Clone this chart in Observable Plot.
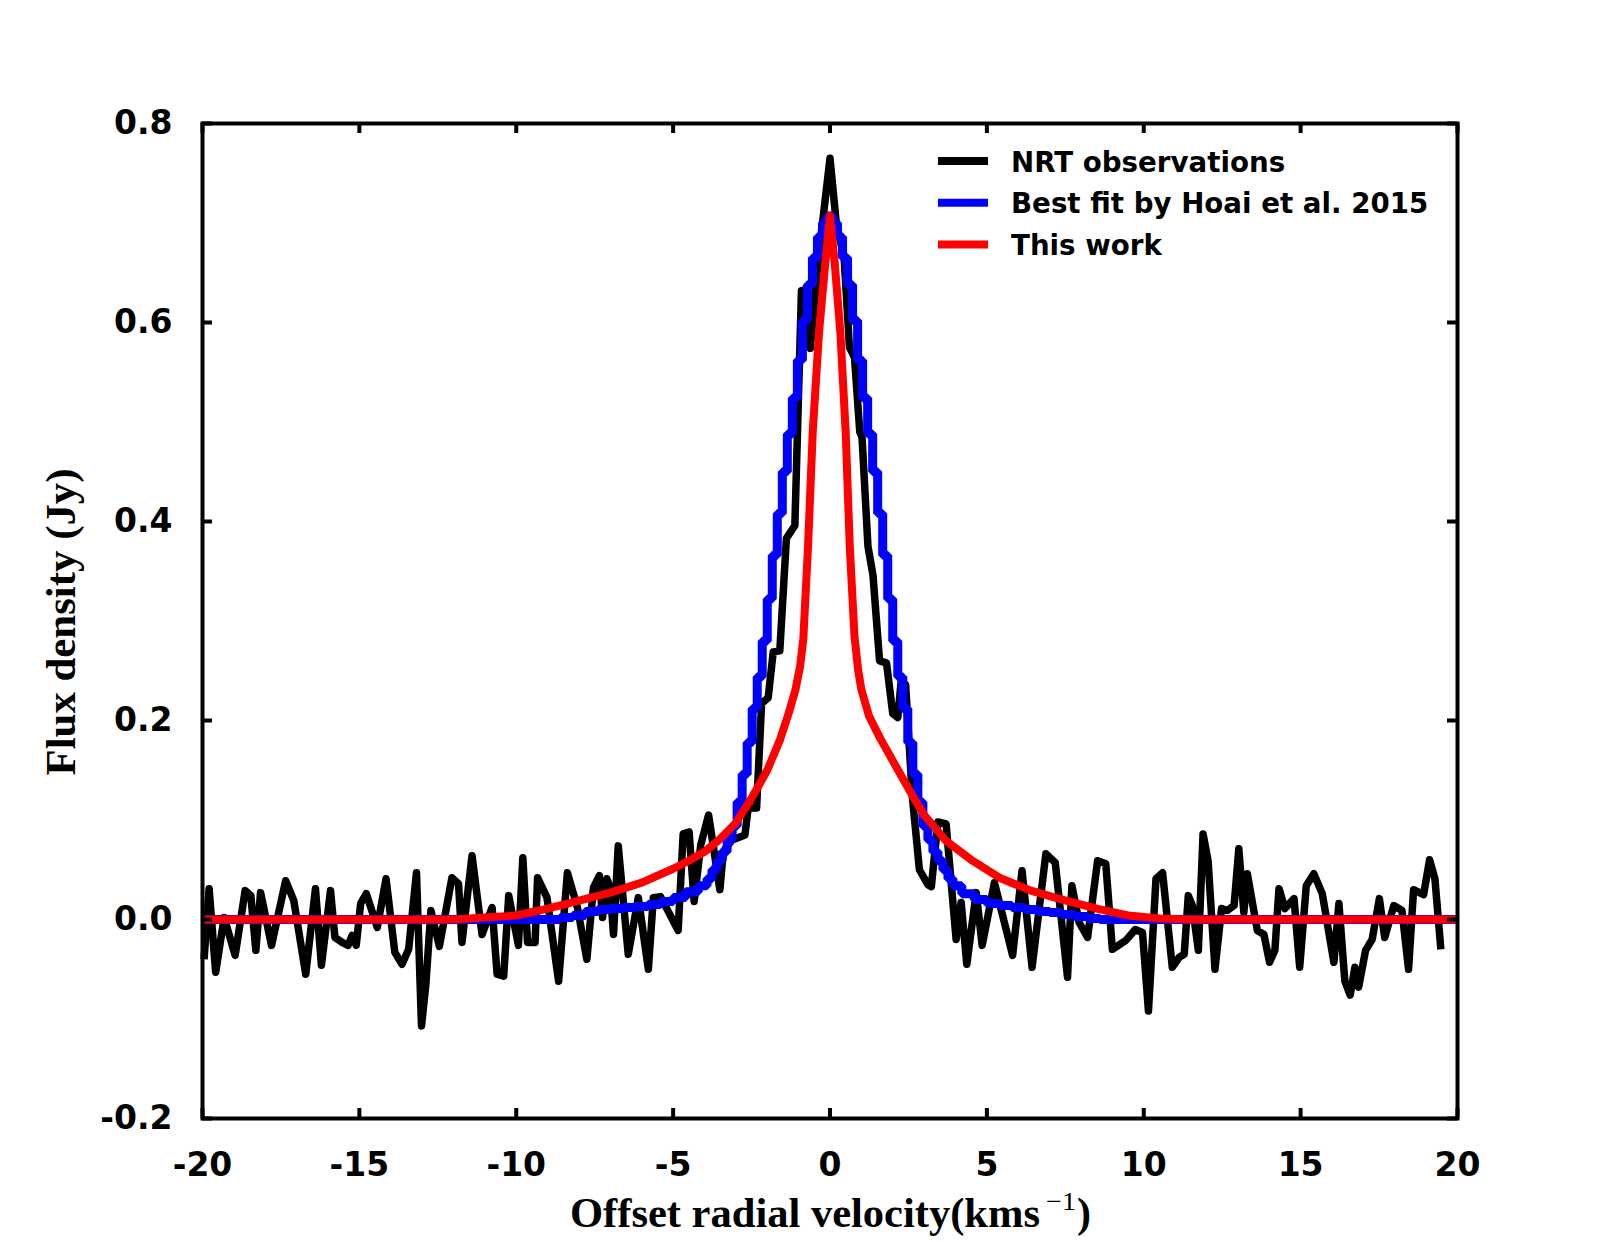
<!DOCTYPE html>
<html>
<head>
<meta charset="utf-8">
<script src="https://cdn.jsdelivr.net/npm/d3@7"></script>
<script src="https://cdn.jsdelivr.net/npm/@observablehq/plot@0.6"></script>
<style>
  html, body { margin: 0; padding: 0; background: #ffffff; }
</style>
</head>
<body>
<div id="chart"></div>
<script>
// ---- Data ----
// NRT observations (offset radial velocity km/s, flux density Jy)
const obsV = [-19.95,-19.79,-19.58,-19.31,-18.96,-18.64,-18.46,-18.30,-18.15,-17.80,-17.35,-17.09,-16.71,-16.40,-16.21,-15.92,-15.78,-15.55,-15.36,-15.23,-15.10,-14.96,-14.78,-14.43,-14.15,-13.87,-13.64,-13.43,-13.18,-13.02,-12.88,-12.72,-12.45,-12.05,-11.84,-11.73,-11.41,-11.09,-10.77,-10.61,-10.40,-10.24,-9.93,-9.79,-9.64,-9.40,-9.32,-9.02,-8.65,-8.37,-8.05,-7.75,-7.54,-7.35,-7.25,-7.11,-7.01,-6.90,-6.75,-6.43,-6.11,-5.79,-5.63,-5.40,-4.84,-4.68,-4.49,-4.33,-4.12,-3.87,-3.51,-3.40,-3.12,-2.71,-2.61,-2.34,-2.18,-1.97,-1.81,-1.60,-1.39,-1.12,-0.91,-0.77,-0.63,-0.35,0.00,0.20,0.45,0.62,0.78,0.95,1.02,1.21,1.37,1.58,1.80,2.00,2.16,2.27,2.41,2.62,2.85,3.12,3.23,3.44,3.70,4.02,4.18,4.36,4.66,4.85,5.24,5.82,6.12,6.44,6.88,7.18,7.57,7.71,7.94,8.21,8.53,8.79,9.00,9.43,9.73,9.96,10.15,10.39,10.60,10.91,11.13,11.29,11.42,11.55,11.74,11.89,12.05,12.27,12.48,12.66,12.88,13.03,13.19,13.30,13.62,13.83,14.01,14.18,14.31,14.50,14.79,14.97,15.18,15.42,15.69,16.06,16.22,16.41,16.58,16.73,16.85,17.07,17.28,17.51,17.68,17.97,18.23,18.44,18.60,18.92,19.11,19.28,19.47];
const obsF = [-0.040,0.031,-0.053,0.002,-0.036,0.029,0.024,-0.031,0.027,-0.026,0.039,0.019,-0.055,0.031,-0.046,0.029,-0.018,-0.023,-0.026,-0.016,-0.026,0.016,0.026,-0.008,0.041,-0.033,-0.045,-0.030,0.047,-0.107,-0.065,0.009,-0.027,0.042,0.036,-0.023,0.064,-0.015,0.012,-0.055,-0.057,0.024,-0.026,0.062,-0.023,-0.023,0.042,0.022,-0.062,0.047,0.012,-0.040,0.032,0.044,0.002,0.041,0.032,-0.015,0.074,-0.035,0.022,-0.050,0.022,0.023,-0.011,0.086,0.088,0.018,0.075,0.105,0.030,0.068,0.080,0.085,0.112,0.112,0.217,0.223,0.269,0.270,0.383,0.396,0.632,0.633,0.574,0.670,0.765,0.700,0.665,0.575,0.565,0.490,0.485,0.375,0.346,0.260,0.258,0.207,0.203,0.240,0.236,0.125,0.050,0.035,0.033,0.098,0.096,-0.020,0.017,-0.045,0.027,-0.026,0.037,-0.036,0.049,-0.048,0.066,0.057,-0.058,0.034,-0.003,-0.018,0.059,0.056,-0.030,-0.021,-0.010,-0.013,-0.092,0.041,0.047,-0.048,-0.038,-0.035,0.024,0.014,-0.031,0.086,0.059,-0.050,0.011,0.009,0.014,0.071,0.007,0.046,-0.011,-0.015,-0.043,-0.031,0.031,0.011,0.021,-0.048,0.034,0.046,0.026,-0.043,0.016,-0.062,-0.076,-0.048,-0.068,-0.031,-0.020,0.021,-0.018,0.014,0.009,-0.050,0.030,0.025,0.060,0.041,-0.030];

// Best fit by Hoai et al. 2015 (drawn as channel steps)
const fitV = [-19.9,-9.2,-8.8,-8.4,-8.0,-7.6,-7.2,-6.8,-6.4,-6.0,-5.6,-5.2,-4.8,-4.4,-4.00,-3.84,-3.68,-3.52,-3.36,-3.20,-3.04,-2.88,-2.72,-2.56,-2.40,-2.24,-2.08,-1.92,-1.76,-1.60,-1.44,-1.28,-1.12,-0.96,-0.80,-0.64,-0.48,-0.32,-0.16,0.00,0.16,0.32,0.48,0.64,0.80,0.96,1.12,1.28,1.44,1.60,1.76,1.92,2.08,2.24,2.40,2.56,2.72,2.88,3.04,3.20,3.36,3.52,3.68,3.84,4.00,4.4,4.8,5.2,5.6,6.0,6.4,6.8,7.2,7.6,8.0,8.4,8.8,9.2,19.9];
const fitF = [0,0,0,0.002,0.004,0.008,0.010,0.011,0.012,0.013,0.015,0.018,0.022,0.028,0.034,0.041,0.050,0.059,0.068,0.080,0.094,0.118,0.146,0.178,0.212,0.244,0.280,0.322,0.366,0.408,0.450,0.488,0.524,0.562,0.602,0.638,0.665,0.686,0.700,0.707,0.700,0.686,0.665,0.638,0.602,0.562,0.524,0.488,0.450,0.408,0.366,0.322,0.280,0.244,0.212,0.178,0.146,0.118,0.094,0.080,0.068,0.059,0.050,0.041,0.034,0.026,0.020,0.016,0.014,0.012,0.010,0.008,0.007,0.005,0.003,0.001,0,0,0];

// This work
const modelV = [-19.9,-12,-11,-10,-9,-8,-7,-6,-5,-4.5,-4,-3.5,-3,-2.5,-2,-1.6,-1.3,-1.1,-0.95,-0.85,-0.7,-0.55,-0.35,-0.15,0,0.15,0.33,0.5,0.63,0.78,0.9,1.0,1.25,1.6,2.1,2.6,3.0,3.7,4.5,5.4,6.4,7.4,8.5,9.5,10.5,11.5,19.9];
const modelF = [0,0,0.002,0.004,0.011,0.019,0.027,0.037,0.051,0.059,0.068,0.081,0.097,0.122,0.150,0.180,0.209,0.231,0.255,0.282,0.375,0.490,0.590,0.660,0.707,0.660,0.590,0.490,0.375,0.285,0.250,0.231,0.204,0.182,0.154,0.126,0.105,0.079,0.060,0.042,0.029,0.020,0.011,0.004,0.001,0,0];

const xTicks = [-20,-15,-10,-5,0,5,10,15,20];
const yTicks = [-0.2,0.0,0.2,0.4,0.6,0.8];
const seriesNames = ["NRT observations","Best fit by Hoai et al. 2015","This work"];
const seriesColors = ["#000000","#0000ff","#ff0000"];

// ---- Layout ----
const W = 1618, H = 1242;
const mL = 202, mR = 161, mT = 123, mB = 124;
const xDomain = [-20, 20], yDomain = [-0.2, 0.8];
const tickPx = 10;
const tickDy = tickPx * (yDomain[1] - yDomain[0]) / (H - mT - mB);
const tickDx = tickPx * (xDomain[1] - xDomain[0]) / (W - mL - mR);

const obs = obsV.map((v, i) => ({v, f: obsF[i]}));
const fit = fitV.map((v, i) => ({v, f: fitF[i]}));
const model = modelV.map((v, i) => ({v, f: modelF[i]}));

const svg = Plot.plot({
  width: W, height: H,
  marginLeft: mL, marginRight: mR, marginTop: mT, marginBottom: mB,
  x: {domain: xDomain},
  y: {domain: yDomain},
  style: {fontFamily: "DejaVu Sans", background: "#ffffff", color: "#000"},
  marks: [
    Plot.line(obs, {x: "v", y: "f", stroke: seriesColors[0], strokeWidth: 7.5, strokeLinejoin: "round", strokeLinecap: "butt"}),
    Plot.line(fit, {x: "v", y: "f", stroke: seriesColors[1], strokeWidth: 9, curve: "step", strokeLinejoin: "miter"}),
    Plot.line(model, {x: "v", y: "f", stroke: seriesColors[2], strokeWidth: 8, strokeLinejoin: "round"}),
    Plot.ruleX(xTicks, {x: d => d, y1: yDomain[0], y2: yDomain[0] + tickDy, stroke: "#000", strokeWidth: 4}),
    Plot.ruleX(xTicks, {x: d => d, y1: yDomain[1], y2: yDomain[1] - tickDy, stroke: "#000", strokeWidth: 4}),
    Plot.ruleY(yTicks, {y: d => d, x1: xDomain[0], x2: xDomain[0] + tickDx, stroke: "#000", strokeWidth: 4}),
    Plot.ruleY(yTicks, {y: d => d, x1: xDomain[1], x2: xDomain[1] - tickDx, stroke: "#000", strokeWidth: 4}),
    Plot.frame({stroke: "#000", strokeWidth: 4}),
    Plot.axisX(xTicks, {tickSize: 0, tickPadding: 34, fontSize: 33, fontWeight: "bold", tickFormat: d => String(d), label: null}),
    Plot.axisY(yTicks, {tickSize: 0, tickPadding: 30, fontSize: 33, fontWeight: "bold", tickFormat: d => d.toFixed(1), label: null})
  ]
});

const s = d3.select(svg);

// Axis labels (serif bold, LaTeX-like)
const serif = "'Liberation Serif', 'DejaVu Serif', serif";
s.append("text")
  .attr("x", 570).attr("y", 1227)
  .attr("text-anchor", "start")
  .attr("font-family", serif).attr("font-weight", "bold").attr("font-size", 42)
  .attr("textLength", 470).attr("lengthAdjust", "spacingAndGlyphs")
  .attr("fill", "#000")
  .text("Offset radial velocity(kms");
s.append("text")
  .attr("x", 1046).attr("y", 1210)
  .attr("text-anchor", "start")
  .attr("font-family", serif).attr("font-weight", "normal").attr("font-size", 26)
  .attr("textLength", 30).attr("lengthAdjust", "spacingAndGlyphs")
  .attr("fill", "#000")
  .text("\u22121");
s.append("text")
  .attr("x", 1077).attr("y", 1227)
  .attr("text-anchor", "start")
  .attr("font-family", serif).attr("font-weight", "bold").attr("font-size", 42)
  .attr("fill", "#000")
  .text(")");
s.append("text")
  .attr("transform", "translate(75,622) rotate(-90)")
  .attr("text-anchor", "middle")
  .attr("font-family", serif).attr("font-weight", "bold").attr("font-size", 42)
  .attr("textLength", 307).attr("lengthAdjust", "spacingAndGlyphs")
  .attr("fill", "#000")
  .text("Flux density (Jy)");

// Legend
const legend = s.append("g");
seriesNames.forEach((name, i) => {
  const cy = 161 + i * 41.7;
  legend.append("line")
    .attr("x1", 938).attr("x2", 988).attr("y1", cy).attr("y2", cy)
    .attr("stroke", seriesColors[i]).attr("stroke-width", 8);
  legend.append("text")
    .attr("x", 1011).attr("y", cy + 10.5)
    .attr("text-anchor", "start")
    .attr("font-family", "DejaVu Sans").attr("font-weight", "bold").attr("font-size", 27.7)
    .attr("fill", "#000")
    .text(name);
});

document.getElementById("chart").appendChild(svg);
</script>
</body>
</html>
